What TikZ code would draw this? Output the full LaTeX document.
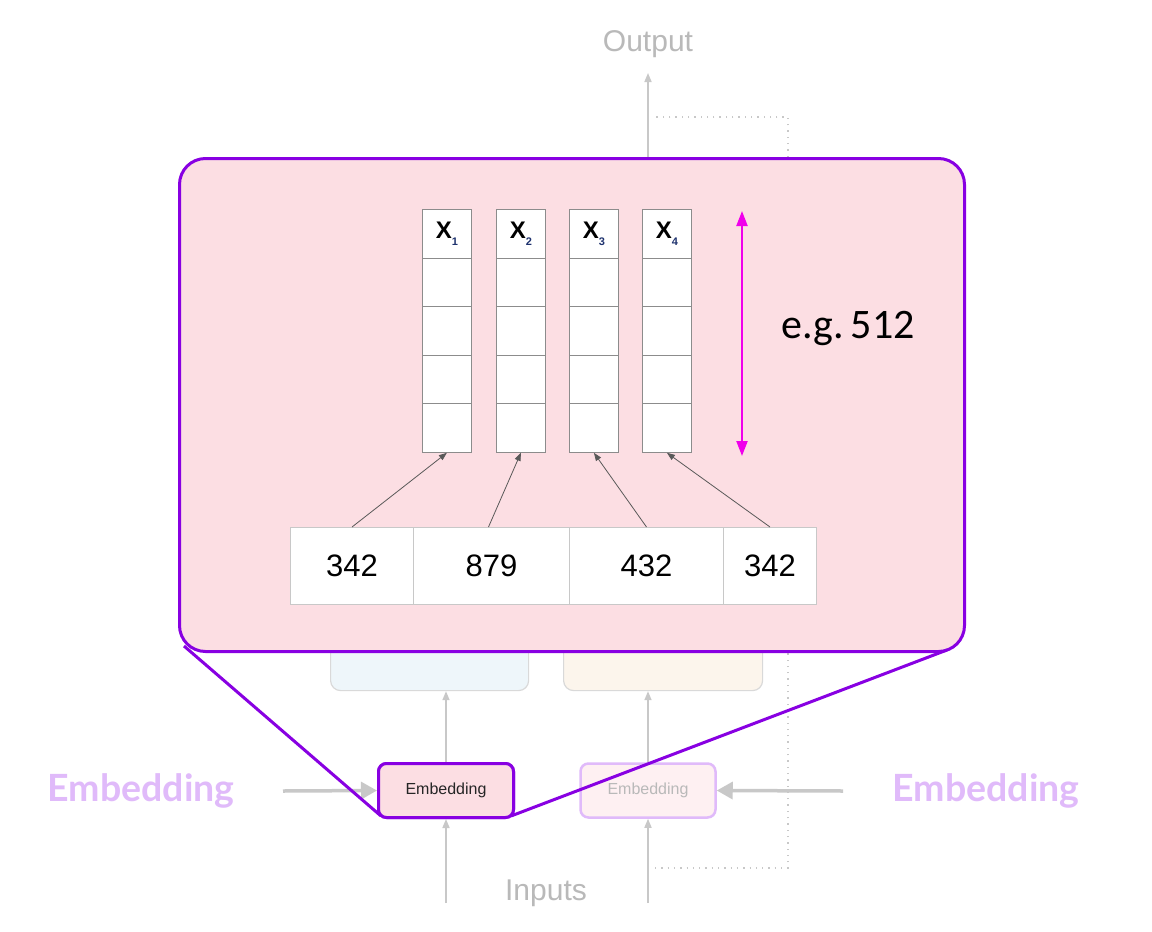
\documentclass[tikz,border=0pt]{standalone}
\usepackage{fontspec}
\setmainfont{Liberation Sans}
\newfontfamily\latofont{Lato}
\newfontfamily\carlitofont{Carlito}
\usetikzlibrary{arrows.meta}
\definecolor{pinkfill}{RGB}{252,222,227}
\definecolor{purpleline}{RGB}{136,0,226}
\definecolor{lightpurple}{RGB}{224,186,250}
\definecolor{fadegray}{RGB}{200,200,200}
\definecolor{textgray}{RGB}{185,185,185}
\definecolor{cellline}{RGB}{140,140,140}
\definecolor{magentaarrow}{RGB}{240,0,235}
\definecolor{bluefill}{RGB}{238,246,250}
\definecolor{beigefill}{RGB}{252,245,236}
\definecolor{subblue}{RGB}{30,50,110}
\tikzset{
  cellbox/.style={draw=cellline, line width=0.8pt, fill=white, inner sep=0pt, minimum width=49pt, minimum height=48.6pt, anchor=north west},
  tokbox/.style={draw=fadegray, line width=1pt, fill=white, inner sep=0pt, minimum height=77pt, anchor=north west, font=\fontsize{31}{33}\selectfont},
  grayup/.style={draw=fadegray, line width=1.6pt, -{Triangle[length=9pt,width=7pt]}},
  grayside/.style={draw=fadegray, line width=3.5pt, -{Triangle[length=16pt,width=17pt]}},
  tokarrow/.style={draw=black!65, line width=0.8pt, -{Triangle[length=8pt,width=6pt]}},
  biglabel/.style={text=lightpurple, font=\latofont\bfseries\fontsize{37.5}{40}\selectfont},
  softbox/.style={draw=fadegray!70, line width=1.2pt, rounded corners=10pt, inner sep=0pt, anchor=north west},
  embbox/.style={rounded corners=8pt, minimum width=135pt, minimum height=54pt, inner sep=0pt, font=\fontsize{16}{18}\selectfont}
}
\begin{document}
\begin{tikzpicture}[x=1pt,y=-1pt]
\useasboundingbox[fill=white] (0,0) rectangle (1152,932);

% faded background boxes
\node[softbox, fill=bluefill, minimum width=198pt, minimum height=70pt] (bluebox) at (330,620) {};
\node[softbox, fill=beigefill, minimum width=199pt, minimum height=70pt] (beigebox) at (563,620) {};

% dotted residual line
\coordinate (dotA) at (655,868);
\coordinate (dotB) at (788,868);
\coordinate (dotC) at (788,117);
\coordinate (dotD) at (655,117);
\draw[fadegray, line width=1.3pt, dash pattern=on 1.3pt off 5pt] (dotA) -- (dotB) -- (dotC) -- (dotD);

% texts
\node[text=textgray, font=\fontsize{30}{32}\selectfont] (output) at (648,44) {Output};
\node[text=textgray, font=\fontsize{30}{32}\selectfont] (inputs) at (546,893) {Inputs};
\node[biglabel] (embL) at (141,791) {Embedding};
\node[biglabel] (embR) at (986,791) {Embedding};

% embedding boxes
\node[embbox, draw=purpleline, line width=3pt, fill=pinkfill, text=black!85] (emb1) at (446,790.5) {Embedding};
\node[embbox, draw=lightpurple, line width=2.5pt, fill=pinkfill!45, text=textgray] (emb2) at (648,790.5) {Embedding};

% input / output gray arrows
\coordinate (in1) at (446,903);
\coordinate (in2) at (648,903);
\coordinate (outtop) at (648,73);
\coordinate (outbot) at (648,157);
\draw[grayup] (in1) -- (emb1.south);
\draw[grayup] (in2) -- (emb2.south);
\draw[grayup] (emb1.north) -- (bluebox.south -| emb1.north);
\draw[grayup] (emb2.north) -- (beigebox.south -| emb2.north);
\draw[grayup] (outbot) -- (outtop);
\coordinate (sideL) at (283,791);
\coordinate (sideR) at (843,791);
\draw[grayside] (sideL) -- (emb1.west);
\draw[grayside] (sideR) -- (emb2.east);

% big zoom box
\node[draw=purpleline, line width=3pt, fill=pinkfill, rounded corners=26pt, minimum width=785pt, minimum height=493pt, inner sep=0pt, anchor=north west] (zoom) at (178,157) {};
\coordinate (zl) at (184,646);
\coordinate (zr) at (947,650);
\coordinate (eL) at (381,816);
\coordinate (eR) at (511,816);
\draw[purpleline, line width=3pt] (zl) -- (eL);
\draw[purpleline, line width=3pt] (zr) -- (eR);
% embedding box redrawn on top of the zoom lines
\node[embbox, draw=purpleline, line width=3pt, fill=pinkfill, text=black!85] (emb1top) at (446,790.5) {Embedding};

% vectors
\foreach \i/\x in {1/422,2/496,3/569,4/642}{
  \node[cellbox, font=\bfseries\fontsize{24}{26}\selectfont] (v\i c0) at (\x,209) {X\raisebox{-0.5ex}{\textcolor{subblue}{\fontsize{11}{12}\selectfont\i}}};
  \foreach \j in {1,...,4}{
    \node[cellbox] (v\i c\j) at (\x,{209+48.6*\j}) {};
  }
}

% dimension arrow
\coordinate (dimtop) at (742,211);
\coordinate (dimbot) at (742,456);
\draw[magentaarrow, line width=2.2pt, {Triangle[length=15pt,width=11pt]}-{Triangle[length=15pt,width=11pt]}] (dimtop) -- (dimbot);
\node[font=\carlitofont\fontsize{42}{44}\selectfont, text=black] (dim) at (848,328) {e.g.\,512};

% token row
\node[tokbox, minimum width=123pt] (t1) at (290,527) {342};
\node[tokbox, minimum width=156pt] (t2) at (413,527) {879};
\node[tokbox, minimum width=154pt] (t3) at (569,527) {432};
\node[tokbox, minimum width=93pt] (t4) at (723,527) {342};

% token arrows
\draw[tokarrow] (t1.north) -- (v1c4.south);
\draw[tokarrow] ([xshift=-3pt]t2.north) -- (v2c4.south);
\draw[tokarrow] (t3.north) -- (v3c4.south);
\draw[tokarrow] (t4.north) -- (v4c4.south);
\end{tikzpicture}
\end{document}
